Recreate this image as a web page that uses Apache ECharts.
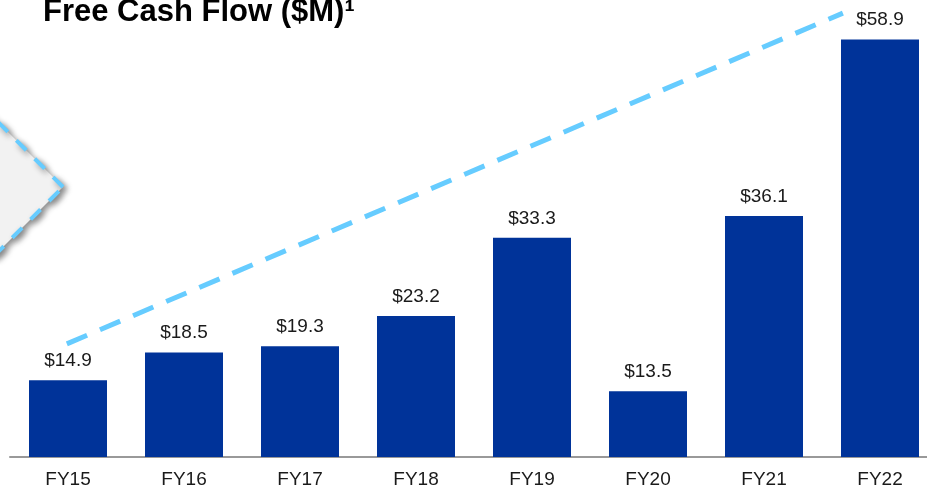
<!DOCTYPE html>
<html>

<head>
    <meta charset="utf-8">
    <title>Free Cash Flow</title>
    <script src="https://cdn.jsdelivr.net/npm/echarts@6/dist/echarts.min.js"></script>
    <style>
        html, body { margin: 0; padding: 0; background: #fff; }
        #main { width: 927px; height: 491px; }
    </style>
</head>

<body>
    <div id="main"></div>
    <script>
        // data
        var years = ['FY15', 'FY16', 'FY17', 'FY18', 'FY19', 'FY20', 'FY21', 'FY22'];
        var fcf = [14.9, 18.5, 19.3, 23.2, 33.3, 13.5, 36.1, 58.9];
        // dashed growth arrow, x in category units (0..8), y in $M
        var trendX = [0.49, 7.18];
        var trendY = [19.6, 62.3];

        var font = '"Liberation Sans", Arial, sans-serif';
        var myChart = echarts.init(document.getElementById('main'));

        myChart.setOption({
            animation: false,
            title: {
                text: 'Free Cash Flow ($M)¹',
                left: 43,
                top: -3,
                padding: 0,
                textStyle: {
                    fontFamily: font,
                    fontSize: 31,
                    fontWeight: 'bold',
                    color: '#000',
                    lineHeight: 31
                }
            },
            //左侧灰色菱形装饰
            graphic: [{
                type: 'polygon',
                z: 1,
                shape: {
                    points: [[63, 187], [-60, 64], [-183, 187], [-60, 310]]
                },
                style: {
                    fill: '#f2f2f2',
                    stroke: '#66ccff',
                    lineWidth: 4,
                    lineDash: [14, 12],
                    shadowBlur: 6,
                    shadowOffsetX: 3,
                    shadowOffsetY: 3,
                    shadowColor: 'rgba(0,0,0,0.45)'
                }
            }],
            grid: {
                left: 10,
                top: 0,
                width: 928,
                height: 457,
                outerBoundsMode: 'none'
            },
            xAxis: [{
                type: 'category',
                data: years,
                axisTick: { show: false },
                axisLine: { lineStyle: { color: '#999', width: 2 } },
                axisLabel: {
                    margin: 13,
                    fontFamily: font,
                    fontSize: 19,
                    color: '#1a1a1a'
                }
            }, {
                type: 'value',
                min: 0,
                max: 8,
                show: false
            }],
            yAxis: {
                type: 'value',
                min: 5,
                max: 64,
                show: false,
                splitLine: { show: false }
            },
            series: [{
                type: 'bar',
                data: fcf,
                barWidth: 78,
                itemStyle: { color: '#003399' },
                label: {
                    show: true,
                    position: 'top',
                    distance: 10,
                    fontFamily: font,
                    fontSize: 19,
                    color: '#1a1a1a',
                    formatter: function (p) { return '$' + p.value.toFixed(1); }
                }
            }, {
                type: 'line',
                xAxisIndex: 1,
                data: trendX.map(function (x, i) { return [x, trendY[i]]; }),
                symbol: 'none',
                z: 3,
                lineStyle: {
                    color: '#66ccff',
                    width: 5,
                    type: [22, 14],
                    cap: 'butt'
                }
            }]
        });
    </script>
</body>

</html>
